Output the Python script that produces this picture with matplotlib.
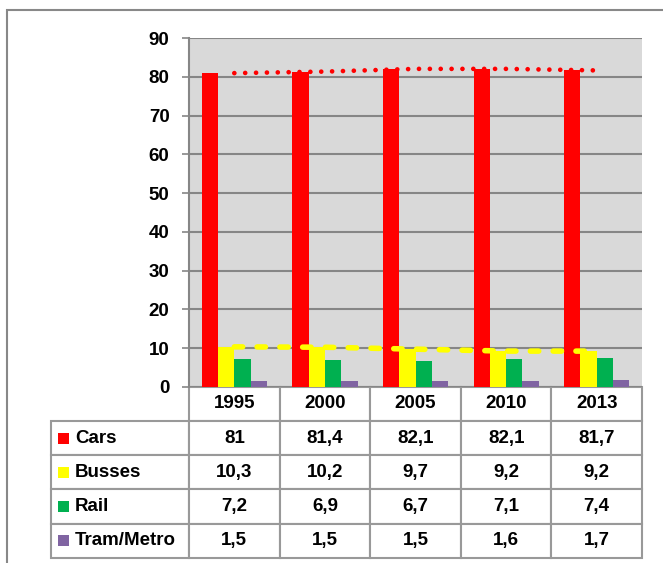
import numpy as np
import matplotlib
matplotlib.use('Agg')
from matplotlib import pyplot as plt
from matplotlib.patches import Rectangle

years = ['1995', '2000', '2005', '2010', '2013']
modes = ['Cars', 'Busses', 'Rail', 'Tram/Metro']
cars = [81, 81.4, 82.1, 82.1, 81.7]
busses = [10.3, 10.2, 9.7, 9.2, 9.2]
rail = [7.2, 6.9, 6.7, 7.1, 7.4]
tram = [1.5, 1.5, 1.5, 1.6, 1.7]
colors = ['#FF0000', '#FFFF00', '#00B050', '#8064A2']

plt.rcParams['font.family'] = ['Liberation Sans', 'DejaVu Sans']
plt.rcParams['font.weight'] = 'bold'

fig = plt.figure(figsize=(6.63, 5.63), dpi=100)
ax = fig.add_axes([0.2851, 0.3131, 0.6833, 0.6189])
ax.set_facecolor('#D9D9D9')

x = np.arange(len(years))
w = 0.18
series = [cars, busses, rail, tram]
for k, vals in enumerate(series):
    ax.bar(x + (k - 1.5) * w, vals, width=w, color=colors[k], zorder=3)

# trend lines
ax.plot(x, cars, color='#FF0000', lw=3.4, linestyle=(0, (0.001, 2.3)),
        dash_capstyle='round', zorder=4)
ax.plot(x, busses, color='#FFFF00', lw=4, linestyle=(0, (1.5, 2.6)),
        dash_capstyle='round', zorder=4)

ax.set_xlim(-0.5, len(years) - 0.5)
ax.set_ylim(0, 90)
ax.set_yticks(np.arange(0, 91, 10))
ax.yaxis.grid(True, color='#868686', lw=1.5, zorder=0)
ax.set_axisbelow(True)
ax.set_xticks([])
ax.tick_params(axis='y', length=5, width=1.2, color='#868686', pad=9,
               labelsize=13.5)
for lbl in ax.get_yticklabels():
    lbl.set_fontweight('bold')
for s in ['top', 'right', 'bottom']:
    ax.spines[s].set_visible(False)
ax.spines['left'].set_color('#868686')
ax.spines['left'].set_linewidth(1.5)

# data table under the chart
cell_text = []
for name, vals in zip(modes, series):
    cell_text.append([name] + [('%g' % v).replace('.', ',') for v in vals])

x0 = -0.3046
tw = 1.0 - x0
th = 0.4908
lab_w = 138 / 591
col_w = (1 - lab_w) / 5
tbl = ax.table(cellText=cell_text, colLabels=[''] + years,
               colWidths=[lab_w] + [col_w] * 5, cellLoc='center',
               bbox=[x0, -th, tw, th])
tbl.auto_set_font_size(False)
for (r, c), cell in tbl.get_celld().items():
    cell.set_edgecolor('#999999')
    cell.set_linewidth(1.5)
    cell.get_text().set_fontsize(13.5)
    cell.get_text().set_fontweight('bold')
    if r == 0 and c == 0:
        cell.visible_edges = ''
    if c == 0 and r > 0:
        cell._loc = 'left'
        cell.get_text().set_ha('left')
        cell.PAD = 0.174

# legend keys in the row labels
rowh = th / 5
sq_w = 11 / 453
sq_h = 11 / 348.4
for i, col in enumerate(colors):
    yc = -(i + 1.5) * rowh
    ax.add_patch(Rectangle(((58 - 189) / 453, yc - sq_h / 2), sq_w, sq_h,
                           facecolor=col, edgecolor='none',
                           transform=ax.transAxes, clip_on=False))

# outer frame
fig.patches.append(Rectangle((6.7 / 663, -0.05), 1.1, 1 - 10 / 563 + 0.05,
                             transform=fig.transFigure, fill=False,
                             edgecolor='#888888', lw=1.5))

fig.savefig('out.png', dpi=100)
